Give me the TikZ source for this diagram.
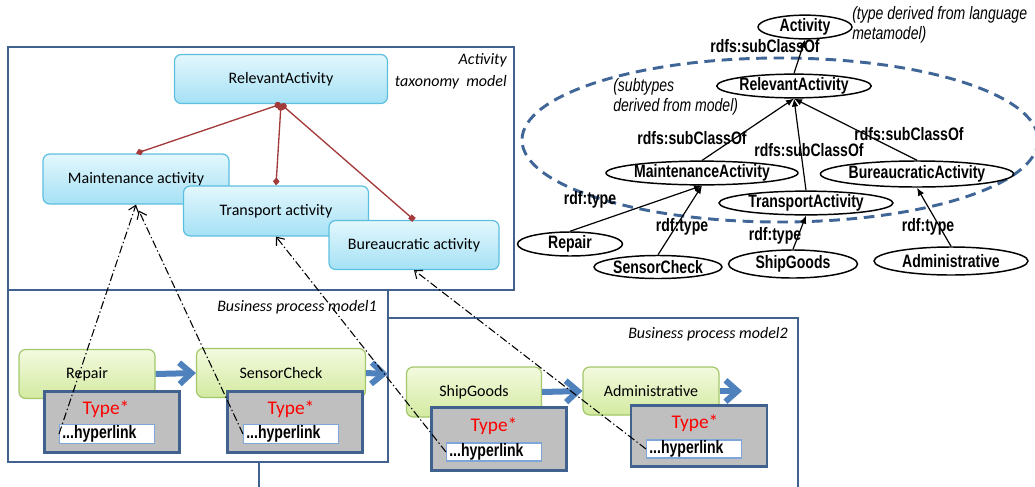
\documentclass[tikz,border=0pt]{standalone}
\usepackage{fontspec}
\setmainfont{Carlito}
\newfontfamily\rdffont[FakeStretch=0.78]{Liberation Sans}
\usetikzlibrary{positioning,shapes.geometric,arrows.meta}

\definecolor{boxblue}{HTML}{41618F}
\definecolor{arrowblue}{HTML}{4F81BD}
\definecolor{linkred}{HTML}{A33B3B}
\definecolor{cyanedge}{HTML}{5DBFE0}
\definecolor{cyantop}{HTML}{E3F7FD}
\definecolor{cyanbot}{HTML}{A5E1F5}
\definecolor{greenedge}{HTML}{A3C76A}
\definecolor{greentop}{HTML}{F3FADF}
\definecolor{greenbot}{HTML}{D3EAA0}
\definecolor{typegray}{HTML}{BFBFBF}
\definecolor{linkedge}{HTML}{7FA6D8}
\definecolor{ovaldash}{HTML}{3F6696}

\def\pxu{0.75pt}

\begin{document}
\begin{tikzpicture}[
      x=0.75pt, y=-0.75pt,
      modelbox/.style={draw=boxblue, line width=2.2pt},
      modellabel/.style={font=\itshape\fontsize{12}{14}\selectfont, inner sep=0pt},
      taxnode/.style={draw=cyanedge, line width=0.9pt, rounded corners=5pt,
        top color=cyantop, bottom color=cyanbot, inner sep=0pt,
        font=\fontsize{12}{14}\selectfont},
      procnode/.style={draw=greenedge, line width=0.9pt, rounded corners=5pt,
        top color=greentop, bottom color=greenbot, inner sep=0pt,
        font=\fontsize{12}{14}\selectfont},
      typebox/.style={draw=boxblue, line width=2.2pt, fill=typegray, inner sep=0pt},
      typelabel/.style={text=red, inner sep=0pt, font=\fontsize{14.5}{16}\selectfont},
      linkbox/.style={draw=linkedge, line width=1pt, fill=white, inner xsep=2pt,
        inner ysep=0pt, text width=67pt, align=left,
        font=\rdffont\bfseries\fontsize{13.5}{15}\selectfont},
      taxlink/.style={draw=linkred, line width=1pt},
      flowarrow/.style={draw=arrowblue, line width=4.5pt,
        -{Straight Barb[length=9pt,width=16pt]}},
      reflink/.style={draw=black, line width=0.8pt,
        dash pattern=on 6pt off 2pt on 1pt off 2pt,
        -{Straight Barb[length=5pt,width=8pt]}},
      rdfclass/.style={ellipse, draw, line width=1.1pt, inner sep=0pt,
        font=\rdffont\bfseries\fontsize{13.5}{15}\selectfont},
      rdfarrow/.style={line width=0.9pt, -{Latex[length=6pt,width=5pt]}},
      rdflabel/.style={inner sep=0pt, font=\rdffont\bfseries\fontsize{13.5}{15}\selectfont},
      rdfnote/.style={inner sep=0pt, align=left,
        font=\rdffont\itshape\fontsize{13.5}{15}\selectfont},
      ]
      \clip (0,0) rectangle (1035,486);

      % model frames
      \draw[modelbox] (8,47) rectangle (514,290);
      \draw[modelbox] (8,290) rectangle (388,462);
      \draw[modelbox] (388,318) -- (798,318) -- (798,490);
      \draw[modelbox] (259,462) -- (259,490);
      \node[modellabel, anchor=north east, align=right] (taxlbl) at (507,53)
        {Activity\\[3pt]taxonomy\ \ model};
      \node[modellabel, anchor=east] (bp1lbl) at (377,307) {Business process model1};
      \node[modellabel, anchor=east] (bp2lbl) at (788,334) {Business process model2};

      % activity taxonomy
      \node[taxnode, minimum width=213*\pxu, minimum height=49*\pxu] (rel) at (281,79) {RelevantActivity};
      \node[taxnode, minimum width=186*\pxu, minimum height=50*\pxu] (maint) at (136,179) {Maintenance activity};
      \node[taxnode, minimum width=185*\pxu, minimum height=50*\pxu] (trans) at (276,211) {Transport activity};
      \node[taxnode, minimum width=170*\pxu, minimum height=49*\pxu] (bur) at (414,245) {Bureaucratic activity};
      \draw[taxlink, {Circle[length=5pt]}-{Diamond[length=6pt,width=5pt]}] (rel.south) -- (maint.north);
      \draw[taxlink, {Circle[length=5pt]}-{Diamond[length=6pt,width=5pt]}] (rel.south) -- (trans.north);
      \draw[taxlink, {Circle[length=5pt]}-{Square[length=4pt,width=4pt]}] (rel.south) -- (bur.north);

      % business processes
      \node[procnode, minimum width=136*\pxu, minimum height=49*\pxu] (repair) at (87,374) {Repair};
      \node[procnode, minimum width=169*\pxu, minimum height=49*\pxu] (sensor) at (281,373) {SensorCheck};
      \node[procnode, minimum width=135*\pxu, minimum height=50*\pxu] (ship) at (474,392) {ShipGoods};
      \node[procnode, minimum width=136*\pxu, minimum height=48*\pxu] (admin) at (651,391) {Administrative};
      \coordinate (sensorout) at (388,374);
      \coordinate (adminout) at (742,391);
      \draw[flowarrow] (repair.east) -- (sensor.west);
      \draw[flowarrow] (sensor.east) -- (sensorout);
      \draw[flowarrow] (ship.east) -- (admin.west);
      \draw[flowarrow] (admin.east) -- (adminout);

      \node[typebox, minimum width=135*\pxu, minimum height=61*\pxu] (tb1) at (112,422) {};
      \node[typebox, minimum width=135*\pxu, minimum height=61*\pxu] (tb2) at (295,422) {};
      \node[typebox, minimum width=135*\pxu, minimum height=63*\pxu] (tb3) at (499,439) {};
      \node[typebox, minimum width=136*\pxu, minimum height=61*\pxu] (tb4) at (699,436) {};
      \node[typelabel] (ty1) at (106,409) {Type*};
      \node[typelabel] (ty2) at (291,409) {Type*};
      \node[typelabel] (ty3) at (494,426) {Type*};
      \node[typelabel] (ty4) at (695,423) {Type*};
      \node[linkbox, minimum height=19*\pxu] (hl1) at (107,434) {...hyperlink};
      \node[linkbox, minimum height=19*\pxu] (hl2) at (291,434) {...hyperlink};
      \node[linkbox, minimum height=18*\pxu] (hl3) at (494,452) {...hyperlink};
      \node[linkbox, minimum height=18*\pxu] (hl4) at (694,449) {...hyperlink};

      \draw[reflink] (hl1.west) -- (maint.south);
      \draw[reflink, shorten >=5pt] (hl2.west) -- (maint.south);
      \draw[reflink] (hl3.west) -- (trans.south);
      \draw[reflink] (hl4.west) -- (bur.south);

      % RDF view
      \draw[ovaldash, line width=2.2pt, dash pattern=on 8pt off 5pt]
        (780,140) ellipse [x radius=258, y radius=82];
      \node[rdfclass, minimum width=94*\pxu, minimum height=21*\pxu] (act) at (805,27) {Activity};
      \node[rdfclass, minimum width=154*\pxu, minimum height=22*\pxu] (relA) at (794,86) {RelevantActivity};
      \node[rdfclass, minimum width=191*\pxu, minimum height=21*\pxu] (maintA) at (702,173) {MaintenanceActivity};
      \node[rdfclass, minimum width=183*\pxu, minimum height=26*\pxu] (burA) at (917,174) {BureaucraticActivity};
      \node[rdfclass, minimum width=174*\pxu, minimum height=20*\pxu] (transA) at (806,203) {TransportActivity};
      \node[rdfclass, minimum width=105*\pxu, minimum height=24*\pxu] (repA) at (570,244) {Repair};
      \node[rdfclass, minimum width=128*\pxu, minimum height=23*\pxu] (senA) at (658,267) {SensorCheck};
      \node[rdfclass, minimum width=129*\pxu, minimum height=28*\pxu] (shipA) at (793,264) {ShipGoods};
      \node[rdfclass, minimum width=154*\pxu, minimum height=28*\pxu] (admA) at (951,261) {Administrative};

      \draw[rdfarrow] (relA.north) -- (act.south);
      \draw[rdfarrow] (maintA.north) -- (relA.south);
      \draw[rdfarrow] (transA.north) -- (relA.south);
      \draw[rdfarrow] (burA.north) -- (relA.south);
      \draw[rdfarrow] (repA.north) -- (maintA.south);
      \draw[rdfarrow] (senA.north) -- (maintA.south);
      \draw[rdfarrow] (shipA.north) -- (transA.south);
      \draw[rdfarrow] (admA.north) -- (burA.south);

      \node[rdflabel] (sc1) at (765,46) {rdfs:subClassOf};
      \node[rdflabel] (sc2) at (692,138) {rdfs:subClassOf};
      \node[rdflabel] (sc3) at (809,150) {rdfs:subClassOf};
      \node[rdflabel] (sc4) at (909,134) {rdfs:subClassOf};
      \node[rdflabel] (ty5) at (590,200) {rdf:type};
      \node[rdflabel] (ty6) at (682,227) {rdf:type};
      \node[rdflabel] (ty7) at (775,236) {rdf:type};
      \node[rdflabel] (ty8) at (928,227) {rdf:type};

      \node[rdfnote, anchor=west] (note1) at (852,25) {(type derived from language\\metamodel)};
      \node[rdfnote, anchor=west] (note2) at (613,97) {(subtypes\\derived from model)};
    \end{tikzpicture}
\end{document}
